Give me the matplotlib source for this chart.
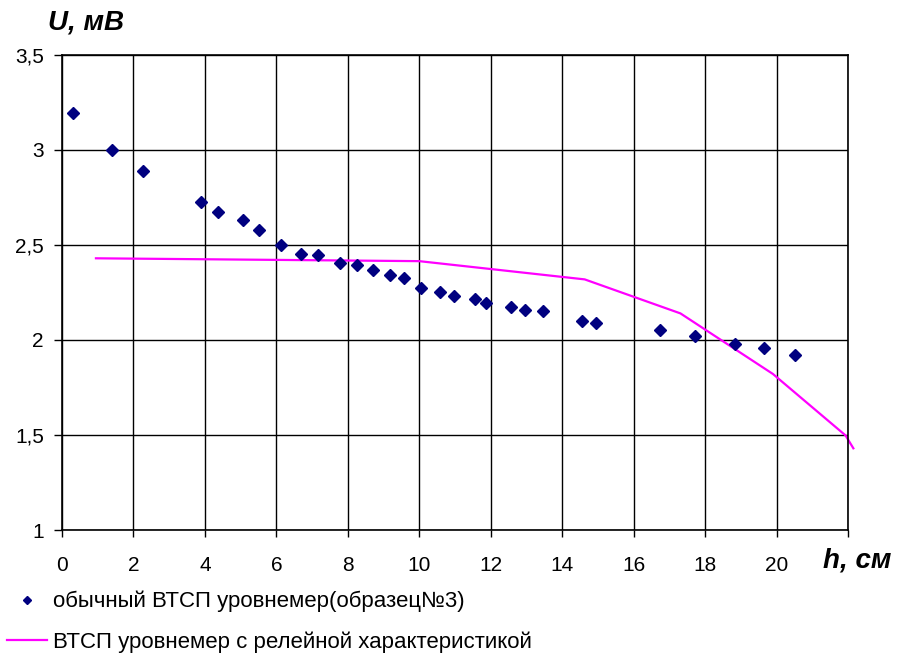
import numpy as np
import matplotlib
matplotlib.use("Agg")
import matplotlib.pyplot as plt

plt.rcParams['font.family'] = ['Liberation Sans', 'DejaVu Sans']

# measured points: обычный ВТСП уровнемер (образец №3)
h_points = [0.31, 1.40, 2.27, 3.89, 4.36, 5.06, 5.51, 6.13, 6.69, 7.16, 7.78,
            8.25, 8.70, 9.17, 9.57, 10.04, 10.57, 10.97, 11.55, 11.88, 12.58,
            12.97, 13.45, 14.55, 14.96, 16.75, 17.73, 18.84, 19.66, 20.53]
u_points = [3.195, 3.0, 2.89, 2.726, 2.674, 2.63, 2.58, 2.50, 2.453, 2.447, 2.405,
            2.395, 2.368, 2.342, 2.326, 2.274, 2.253, 2.232, 2.216, 2.195, 2.172,
            2.158, 2.153, 2.102, 2.089, 2.053, 2.021, 1.977, 1.959, 1.922]

# relay characteristic line
h_line = [0.95, 10.0, 14.63, 17.31, 19.9, 21.93, 22.15]
u_line = [2.43, 2.415, 2.319, 2.14, 1.821, 1.498, 1.43]

x_ticks = [0, 2, 4, 6, 8, 10, 12, 14, 16, 18, 20]
y_ticks = [1, 1.5, 2, 2.5, 3, 3.5]
y_tick_labels = ["1", "1,5", "2", "2,5", "3", "3,5"]

fig = plt.figure(figsize=(8.97, 6.54), dpi=100)
ax = fig.add_axes([62 / 897, 124 / 654, 786 / 897, 475 / 654])

ax.plot(h_points, u_points, linestyle="none", marker="D", markersize=6,
        color="#000080", label="обычный ВТСП уровнемер(образец№3)", zorder=3)
ax.plot(h_line, u_line, color="#FF00FF", linewidth=1.6,
        label="ВТСП уровнемер с релейной характеристикой", clip_on=False, zorder=2)

ax.set_xlim(0, 22)
ax.set_ylim(1, 3.5)
ax.set_xticks(x_ticks + [22])
ax.set_xticklabels([str(t) for t in x_ticks] + [""])
ax.set_yticks(y_ticks)
ax.set_yticklabels(y_tick_labels)
ax.grid(True, color="black", linewidth=1)
ax.set_axisbelow(True)
for s in ax.spines.values():
    s.set_color("black")
    s.set_linewidth(1.2)
ax.tick_params(axis="x", direction="out", length=5, width=1, pad=14, labelsize=15)
ax.tick_params(axis="y", direction="out", length=6, width=1, pad=7, labelsize=15)

fig.text(48 / 897, 1 - 23 / 654, "U, мВ", fontsize=20, fontweight="bold",
         fontstyle="italic", va="center", ha="left")
fig.text(823 / 897, 1 - 560 / 654, "h, см", fontsize=20, fontweight="bold",
         fontstyle="italic", va="center", ha="left")

fig.legend(loc="upper left", bbox_to_anchor=(7 / 897, 1 - 591 / 654),
           bbox_transform=fig.transFigure, frameon=False, fontsize=16,
           handlelength=1.8, handletextpad=0.28, labelspacing=0.85,
           borderpad=0, borderaxespad=0, markerscale=0.7)

fig.savefig("out.png", dpi=100)
